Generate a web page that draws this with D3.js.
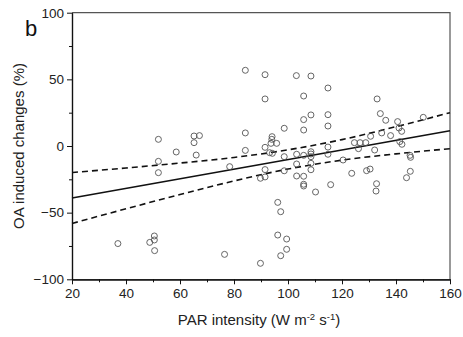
<!DOCTYPE html>
<html>
<head>
<meta charset="utf-8">
<script src="https://cdn.jsdelivr.net/npm/d3@7"></script>
<style>
  body { margin: 0; background: #fff; }
  svg { display: block; font-family: "Liberation Sans", Arial, sans-serif; }
  .axis path, .axis line { stroke: #111; }
  .axis text { font-size: 13.5px; fill: #222; }
</style>
</head>
<body>
<svg id="chart" width="463" height="337"></svg>
<script>
// PAR intensity vs OA induced change
const parX = [37.0, 48.8, 50.5, 50.5, 50.6, 52.0, 52.0, 52.0, 58.6, 65.2, 65.2, 67.2, 66.0,
  76.5, 78.4, 84.2, 84.2, 84.2, 91.5, 91.5, 91.5, 91.5, 91.5, 89.8, 89.8,
  94.1, 94.0, 93.7, 95.8, 94.2, 93.2, 96.2, 96.2, 97.3, 97.3, 98.6, 98.6, 98.6, 99.5, 99.5,
  103.1, 103.2, 103.2, 103.2, 105.8, 105.8, 105.8, 105.8, 105.8, 105.8, 105.8,
  108.5, 108.5, 108.5, 108.5, 108.5, 108.5, 108.5, 110.2,
  114.8, 114.8, 114.8, 114.8, 114.8, 115.8, 120.4, 123.6, 124.6, 126.1, 126.7, 128.8,
  129.1, 130.4, 130.6, 132.1, 132.8, 132.6, 133.0, 134.2, 134.7, 136.2, 138.0,
  140.6, 141.1, 141.4, 142.1, 142.2, 145.2, 145.4, 145.3, 143.9, 150.1];
const oaChange = [-73.2, -72.3, -67.5, -70.5, -78.5, 5, -11.5, -20, -4.5, 7.5, 2.5, 7.8, -6.8,
  -81.3, -15.5, 56.8, 9.8, -3.3, 53.5, 35.3, -1, -17.7, -23.2, -24.2, -88,
  7, 5, 2, 2, -5.5, -5, -42.3, -66.8, -49.3, -82.3, 13.3, -8, -18.6, -69.8, -77.5,
  52.8, -6.2, -13.5, -22.5, 37.5, 19.8, 12, -7, -22.7, -28.7, -30,
  52.5, 23.3, -4.3, -6, -8, -13, -17.8, -34.5,
  43.5, 23.5, 15, -0.8, -6.2, -29, -10.5, -20.5, 2.5, -2, 2.5, 2.5,
  -18.5, -17.3, 7.3, -3, -28.3, -33.8, 35.3, 24.3, 9.8, 19.3, 7.8,
  18.3, 13.5, 3.3, 11, 1.3, -7, -8.5, -19, -23.8, 21.5];

// fitted line and 95% band, sampled from the figure
const fitX = [20, 160];
const fitY = [-39, 11.5];
const bandX = [20, 40, 60, 80, 100, 120, 140, 160];
const bandUpper = [-19.9, -16.5, -12.8, -8.6, -2.9, 4.8, 14.5, 25.0];
const bandLower = [-58.1, -47.1, -36.4, -26.2, -17.3, -10.6, -5.9, -2.0];

const xTicks = [20, 40, 60, 80, 100, 120, 140, 160];
const yTicks = [-100, -50, 0, 50, 100];

const svg = d3.select('#chart');
const margin = { left: 72, right: 13, top: 12.7, bottom: 57.7 };
const width = 463 - margin.left - margin.right;
const height = 337 - margin.top - margin.bottom;

const x = d3.scaleLinear().domain([20, 160]).range([0, width]);
const y = d3.scaleLinear().domain([-100, 100]).range([height, 0]);

const g = svg.append('g').attr('transform', `translate(${margin.left},${margin.top})`);

// frame top/right
g.append('path')
  .attr('d', `M0,0H${width}V${height}`)
  .attr('fill', 'none')
  .attr('stroke', '#555')
  .attr('stroke-width', 1.2);

// minor ticks
g.append('g')
  .attr('class', 'axis')
  .attr('transform', `translate(0,${height})`)
  .call(d3.axisBottom(x).tickValues(d3.range(30, 160, 20)).tickSize(3).tickFormat('').tickSizeOuter(0));
g.append('g')
  .attr('class', 'axis')
  .call(d3.axisLeft(y).tickValues([-75, -25, 25, 75]).tickSize(3).tickFormat('').tickSizeOuter(0));

// major axes
g.append('g')
  .attr('class', 'axis')
  .attr('transform', `translate(0,${height})`)
  .call(d3.axisBottom(x).tickValues(xTicks).tickSize(5).tickPadding(4).tickSizeOuter(0));
g.append('g')
  .attr('class', 'axis')
  .call(d3.axisLeft(y).tickValues(yTicks).tickSize(5).tickPadding(3).tickSizeOuter(0));

g.selectAll('.axis path').attr('stroke-width', 1.2);

// regression and bands
const line = d3.line().x(d => x(d[0])).y(d => y(d[1]));
const bandLine = d3.line().x(d => x(d[0])).y(d => y(d[1])).curve(d3.curveMonotoneX);

g.append('path')
  .datum(d3.zip(bandX, bandUpper))
  .attr('d', bandLine)
  .attr('fill', 'none').attr('stroke', '#111').attr('stroke-width', 1.6)
  .attr('stroke-dasharray', '6,4');
g.append('path')
  .datum(d3.zip(bandX, bandLower))
  .attr('d', bandLine)
  .attr('fill', 'none').attr('stroke', '#111').attr('stroke-width', 1.6)
  .attr('stroke-dasharray', '6,4');
g.append('path')
  .datum(d3.zip(fitX, fitY))
  .attr('d', line)
  .attr('fill', 'none').attr('stroke', '#111').attr('stroke-width', 1.6);

// points
g.append('g')
  .selectAll('circle')
  .data(d3.zip(parX, oaChange))
  .join('circle')
  .attr('cx', d => x(d[0]))
  .attr('cy', d => y(d[1]))
  .attr('r', 3)
  .attr('fill', 'none')
  .attr('stroke', '#555')
  .attr('stroke-width', 0.9);

// labels
svg.append('text')
  .attr('x', 25).attr('y', 36)
  .attr('font-size', 22)
  .attr('fill', '#111')
  .text('b');

const xt = svg.append('text')
  .attr('x', margin.left + width / 2 - 2)
  .attr('y', 325)
  .attr('text-anchor', 'middle')
  .attr('font-size', 15)
  .attr('fill', '#222');
xt.append('tspan').text('PAR intensity (W m');
xt.append('tspan').attr('dy', -5).attr('font-size', 9.5).text('-2');
xt.append('tspan').attr('dy', 5).text(' s');
xt.append('tspan').attr('dy', -5).attr('font-size', 9.5).text('-1');
xt.append('tspan').attr('dy', 5).text(')');

svg.append('text')
  .attr('transform', `translate(24,${margin.top + height / 2}) rotate(-90)`)
  .attr('text-anchor', 'middle')
  .attr('font-size', 15)
  .attr('fill', '#222')
  .text('OA induced changes (%)');
</script>
</body>
</html>
